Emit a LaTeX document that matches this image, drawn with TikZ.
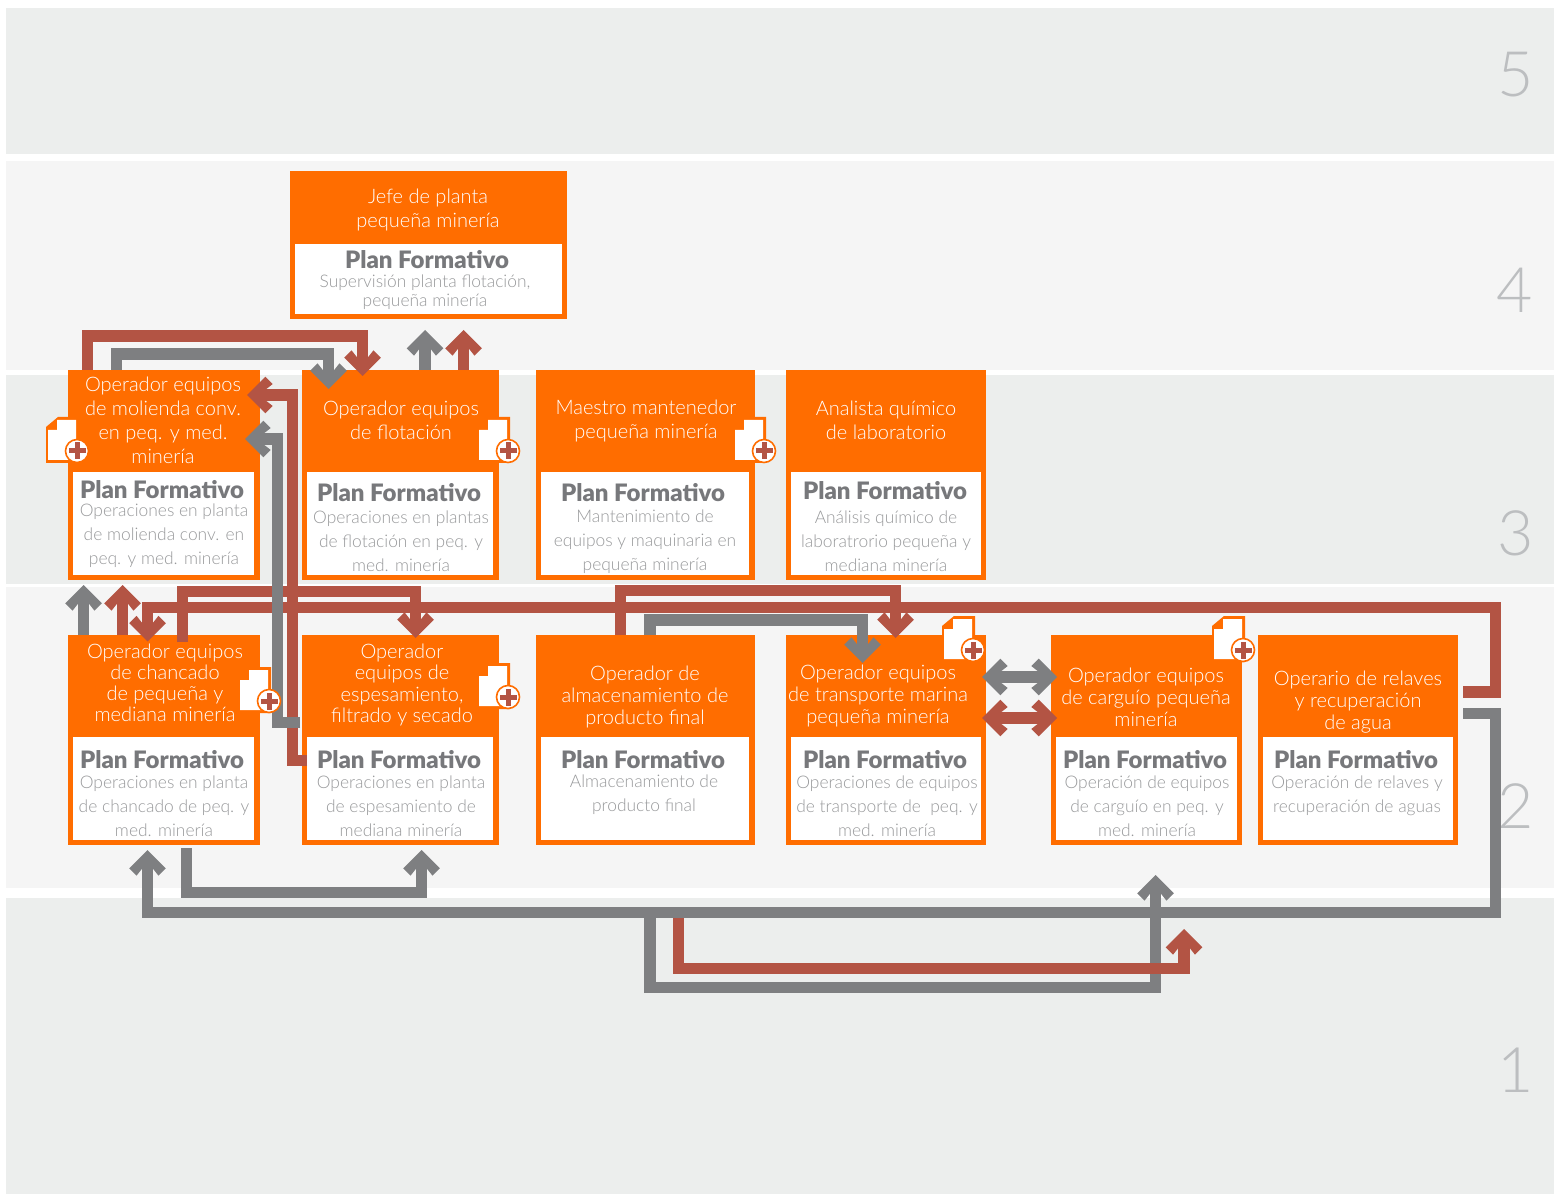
\documentclass[tikz,border=0pt]{standalone}
\usepackage{fontspec}
\setmainfont{Lato}
\newfontfamily\ltf{Lato Light}
\newfontfamily\bdf{Lato Black}
\usetikzlibrary{arrows.meta,calc}
\definecolor{bandA}{HTML}{ECEEED}
\definecolor{bandB}{HTML}{F5F5F5}
\definecolor{orng}{HTML}{FF6D00}
\definecolor{gryl}{HTML}{7E7F81}
\definecolor{redl}{HTML}{B35444}
\definecolor{hdt}{HTML}{77787B}
\definecolor{dst}{HTML}{98999B}
\definecolor{numc}{HTML}{BCBEC0}
\pgfdeclarearrow{
  name=Chev,
  setup code={
    \pgfarrowssettipend{0pt}
    \pgfarrowssetlineend{-9pt}
    \pgfarrowssetvisualbackend{-15pt}
    \pgfarrowssetbackend{-19.3pt}
    \pgfarrowshullpoint{0pt}{0pt}
    \pgfarrowsupperhullpoint{-13.7pt}{13.7pt}
    \pgfarrowsupperhullpoint{-19.3pt}{8.25pt}
  },
  drawing code={
    \pgfpathmoveto{\pgfpoint{0pt}{0pt}}
    \pgfpathlineto{\pgfpoint{-13.7pt}{13.7pt}}
    \pgfpathlineto{\pgfpoint{-19.3pt}{8.25pt}}
    \pgfpathlineto{\pgfpoint{-14.2pt}{4.25pt}}
    \pgfpathlineto{\pgfpoint{-14.2pt}{-4.25pt}}
    \pgfpathlineto{\pgfpoint{-19.3pt}{-8.25pt}}
    \pgfpathlineto{\pgfpoint{-13.7pt}{-13.7pt}}
    \pgfpathclose
    \pgfusepathqfill
  }
}
\tikzset{
  x=0.75pt,y=-0.75pt,
  sized/.style 2 args={minimum width=#1*0.75pt,minimum height=#2*0.75pt},
  band/.style={anchor=north west,inner sep=0,outer sep=0},
  obox/.style={fill=orng,anchor=north west,inner sep=0,outer sep=0},
  plan/.style={fill=white,anchor=north west,inner sep=0,outer sep=0},
  ttl/.style={font=\ltf\fontsize{15}{#1}\selectfont,text=white,align=center,inner sep=0},
  ttl/.default=18,
  pfh/.style={font=\bdf\fontsize{18}{20}\selectfont,text=hdt,inner sep=0},
  dsc/.style={font=\ltf\fontsize{13.05}{#1}\selectfont,text=dst,align=center,inner sep=0},
  dsc/.default=18,
  numb/.style={font=\ltf\fontsize{47}{56}\selectfont,text=numc,inner sep=0},
  rl/.style={draw=redl,fill=none,line width=8.5pt,miter limit=10,-{Chev[]},color=redl},
  gl/.style={draw=gryl,fill=none,line width=8.5pt,miter limit=10,-{Chev[]},color=gryl},
  docplus/.pic={
    \fill[orng] (-2,10) -- (10,0) -- (31,0) -- (31,46) -- (-2,46) -- cycle;
    \fill[white] (0,13) -- (9,13) -- (9,3) -- (28,3) -- (28,43) -- (0,43) -- cycle;
    \path[draw=orng,fill=white,line width=1.2pt] (29,34) circle (11.5);
    \fill[redl] (20.5,31.5) rectangle (37.5,36.5);
    \fill[redl] (26.5,25.5) rectangle (31.5,42.5);
  }
}
\begin{document}
\begin{tikzpicture}
\useasboundingbox (0,0) rectangle (1554,1194);
% bands
\node[band,fill=bandA,sized={1548}{146}] (b5) at (6,8) {};
\node[band,fill=bandB,sized={1548}{209}] (b4) at (6,161) {};
\node[band,fill=bandA,sized={1548}{209}] (b3) at (6,375) {};
\node[band,fill=bandB,sized={1548}{301}] (b2) at (6,587) {};
\node[band,fill=bandA,sized={1548}{296}] (b1) at (6,898) {};
\node[numb] (n5) at (1516,75) {5};
\node[numb] (n4) at (1515,290) {4};
\node[numb] (n3) at (1516,533) {3};
\node[numb] (n2) at (1516,806) {2};
\node[numb] (n1) at (1516,1070) {1};
% boxes
\node[obox,sized={277}{148}] (jef) at (290,171) {};
\node[plan,sized={267}{70}] (jefP) at (295,244) {};
\node[obox,sized={192}{210}] (mol) at (68,370) {};
\node[plan,sized={181}{103}] (molP) at (73,472) {};
\node[obox,sized={197}{210}] (flo) at (302,370) {};
\node[plan,sized={186}{103}] (floP) at (307,472) {};
\node[obox,sized={219}{210}] (mae) at (536,370) {};
\node[plan,sized={208}{103}] (maeP) at (541,472) {};
\node[obox,sized={200}{210}] (ana) at (786,370) {};
\node[plan,sized={190}{103}] (anaP) at (791,472) {};
\node[obox,sized={192}{210}] (cha) at (68,635) {};
\node[plan,sized={181}{103}] (chaP) at (73,737) {};
\node[obox,sized={197}{210}] (esp) at (302,635) {};
\node[plan,sized={186}{103}] (espP) at (307,737) {};
\node[obox,sized={219}{210}] (alm) at (536,635) {};
\node[plan,sized={208}{103}] (almP) at (541,737) {};
\node[obox,sized={200}{210}] (tra) at (786,635) {};
\node[plan,sized={190}{103}] (traP) at (791,737) {};
\node[obox,sized={191}{210}] (car) at (1051,635) {};
\node[plan,sized={181}{103}] (carP) at (1056,737) {};
\node[obox,sized={200}{210}] (rel) at (1258,635) {};
\node[plan,sized={190}{103}] (relP) at (1263,737) {};
% titles
\node[ttl] (jefT) at (428,210) {Jefe de planta\\pequeña minería};
\node[ttl] (molT) at (163,420.5) {Operador equipos\\de molienda conv.\\en peq. y med.\\minería};
\node[ttl] (floT) at (401,420) {Operador equipos\\de flotación};
\node[ttl] (maeT) at (646,420.5) {Maestro mantenedor\\pequeña minería};
\node[ttl] (anaT) at (886,420) {Analista químico\\de laboratorio};
\node[ttl=15.9] (chaT) at (165,683) {Operador equipos\\de chancado\\de pequeña y\\mediana minería};
\node[ttl=16] (espT) at (402,685) {Operador\\equipos de\\espesamiento,\\filtrado y secado};
\node[ttl=16.5] (almT) at (645,697) {Operador de\\almacenamiento de\\producto final};
\node[ttl=16.5] (traT) at (878,695.5) {Operador equipos\\de transporte marina\\pequeña minería};
\node[ttl=16.5] (carT) at (1146,697) {Operador equipos\\de carguío pequeña\\minería};
\node[ttl=16.5] (relT) at (1358,702.5) {Operario de relaves\\y recuperación\\de agua};
% plan headings
\node[pfh] (jefH) at (427,260) {Plan Formativo};
\node[pfh] (molH) at (162,489.5) {Plan Formativo};
\node[pfh] (floH) at (399,492.5) {Plan Formativo};
\node[pfh] (maeH) at (643,492.5) {Plan Formativo};
\node[pfh] (anaH) at (885,490.5) {Plan Formativo};
\node[pfh] (chaH) at (162,760) {Plan Formativo};
\node[pfh] (espH) at (399,760) {Plan Formativo};
\node[pfh] (almH) at (643,760) {Plan Formativo};
\node[pfh] (traH) at (885,760) {Plan Formativo};
\node[pfh] (carH) at (1145,760) {Plan Formativo};
\node[pfh] (relH) at (1356,760) {Plan Formativo};
% plan descriptions
\node[dsc=14.4] (jefD) at (425,292) {Supervisión planta flotación,\\pequeña minería};
\node[dsc] (molD) at (164,535.5) {Operaciones en planta\\de molienda conv. en\\peq. y med. minería};
\node[dsc] (floD) at (401,541) {Operaciones en plantas\\de flotación en peq. y\\med. minería};
\node[dsc] (maeD) at (645,542) {Mantenimiento de\\equipos y maquinaria en\\pequeña minería};
\node[dsc] (anaD) at (886,541) {Análisis químico de\\laboratrorio pequeña y\\mediana minería};
\node[dsc] (chaD) at (164,806) {Operaciones en planta\\de chancado de peq. y\\med. minería};
\node[dsc] (espD) at (401,806) {Operaciones en planta\\de espesamiento de\\mediana minería};
\node[dsc] (almD) at (644,795) {Almacenamiento de\\producto final};
\node[dsc] (traD) at (887,806) {Operaciones de equipos\\de transporte de\ \ peq. y\\med. minería};
\node[dsc] (carD) at (1147,806) {Operación de equipos\\de carguío en peq. y\\med. minería};
\node[dsc] (relD) at (1357,795.5) {Operación de relaves y\\recuperación de aguas};
% red connectors
\draw[rl] ($(mol.north west)+(19.5,0)$) |- (362.5,336) -- ($(flo.north west)+(60.5,6)$);
\draw[rl] ($(flo.north west)+(161.5,0)$) -- ($(jef.south west)+(173.5,11)$);
\draw[rl] ($(cha.north west)+(54.5,0)$) -- ($(mol.south west)+(54.5,5)$);
\draw[rl] ($(rel.east)+(5,-48)$) -| (1495.5,607.5) -- (147.5,607.5) -- ($(cha.north west)+(79.5,6.5)$);
\draw[rl] ($(cha.north west)+(114.5,7)$) |- (415.5,591.5) -- ($(esp.north west)+(113.5,3)$);
\draw[rl] ($(alm.north west)+(84.5,0)$) |- (895.5,590.5) -- ($(tra.north west)+(109.5,3)$);
\draw[rl] ($(espP.south west)+(0,-79.5)$) -| (292.5,395) -- ($(mol.north east)+(-13,25)$);
% grey connectors
\draw[gl] ($(mol.north west)+(48.5,0)$) |- (328.5,354) -- ($(flo.north west)+(26.5,19)$);
\draw[gl] ($(flo.north west)+(123,0)$) -- ($(jef.south west)+(135,11)$);
\draw[gl] ($(cha.north west)+(15.5,0)$) -- ($(mol.south west)+(15.5,5)$);
\draw[gl] ($(esp.west)+(-2,-17.5)$) -| (277.5,439) -- ($(mol.north east)+(-15,69)$);
\draw[gl] ($(cha.south west)+(118.5,3)$) |- (421.5,892.5) -- ($(esp.south west)+(119.5,5)$);
\draw[gl] ($(alm.north west)+(114,0)$) |- (862.5,620) -- ($(tra.north west)+(76.5,28)$);
\draw[gl] ($(rel.east)+(5,-26.5)$) -| (1495.5,912.5) -| ($(cha.south west)+(79.5,5)$);
\coordinate (busG) at (650,912.5);
\coordinate (busR) at (678.5,918);
\draw[gl] (busG) |- (1155.5,987.5) -- ($(car.south west)+(104.5,30)$);
\draw[rl] (busR) |- (1184,968.5) -- ($(car.south east)+(-58,84)$);
\draw[gl,{Chev[]}-{Chev[]}] ($(tra.north east)+(-4,42)$) -- ($(car.north west)+(6,42)$);
\draw[rl,{Chev[]}-{Chev[]}] ($(tra.north east)+(-4,83)$) -- ($(car.north west)+(6,83)$);
% document icons
\pic at (48,417) {docplus};
\pic at (479,417) {docplus};
\pic at (735,417) {docplus};
\pic at (240,667) {docplus};
\pic at (479,663) {docplus};
\pic at (944,616) {docplus};
\pic at (1214,616) {docplus};
\end{tikzpicture}
\end{document}
